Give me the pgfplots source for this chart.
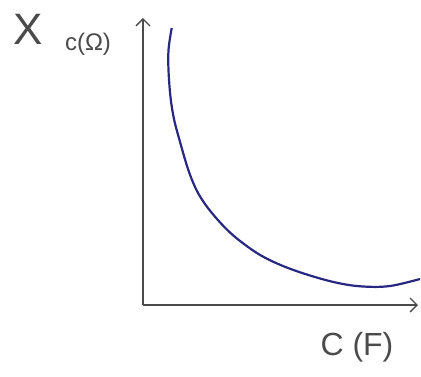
\documentclass[border=0pt]{standalone}
\usepackage{pgfplots}
\pgfplotsset{compat=1.18}
\usetikzlibrary{arrows.meta}
\usepackage{fontspec}
\setmainfont{Liberation Sans}
\definecolor{curve}{RGB}{40,40,130}
\definecolor{axisgray}{RGB}{75,75,75}
\begin{document}
\begin{tikzpicture}
\useasboundingbox (-143pt,-71pt) rectangle (278pt,305pt);
\begin{axis}[
  x=1pt, y=1pt,
  xmin=0, xmax=275, ymin=0, ymax=287,
  axis x line=bottom, axis y line=left,
  axis line style={axisgray, line width=1.3pt, -{Straight Barb[length=7pt,width=14pt]}},
  xtick=\empty, ytick=\empty,
  clip=false,
]
\addplot[curve, line width=2.2pt, smooth, tension=0.6] coordinates {
(28.7,277) (25.6,256) (25.5,235) (27.5,208) (31,186) (36.5,165) (45,136) (53,116) (62,101) (74,86) (87,72.5) (101,61) (118,49.5) (140,39) (167,29.5) (195,22) (220,18.5) (247,19) (277,26)
};
\node[axisgray, font=\fontsize{44}{44}\selectfont] at (axis cs:-115,276) {X};
\node[axisgray, font=\fontsize{24}{24}\selectfont] at (axis cs:-55,261) {c(Ω)};
\node[axisgray, font=\fontsize{32}{32}\selectfont] at (axis cs:214,-42) {C (F)};
\end{axis}
\end{tikzpicture}
\end{document}
